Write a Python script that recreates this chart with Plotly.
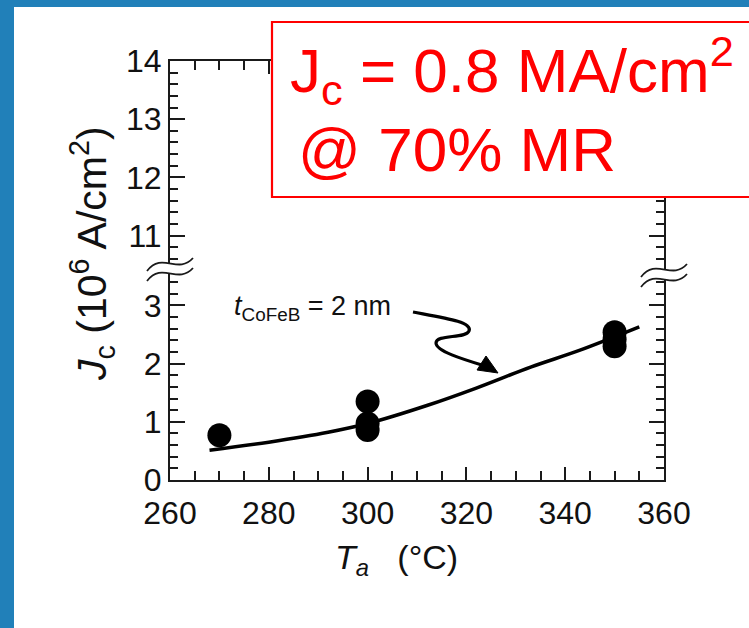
import plotly.graph_objects as go

# ---------------- data ----------------
pt_x = [270, 300, 300, 300, 350, 350, 350]
pt_y = [0.77, 1.35, 0.97, 0.86, 2.54, 2.42, 2.30]
fit_x = [268, 280, 292, 300, 312, 322, 333, 343, 355]
fit_y = [0.51, 0.65, 0.82, 0.97, 1.28, 1.58, 1.94, 2.23, 2.63]
x_ticks = [260, 280, 300, 320, 340, 360]
y_low_ticks = [0, 1, 2, 3]
y_high_ticks = [11, 12, 13, 14]

# ---------------- geometry helpers (layout only) ----------------
W, H = 749, 628
L, R, T, B = 170, 664, 61, 480


def px(x):
    return (x - L) / (R - L)


def py(y):
    return (B - y) / (B - T)


def path(points, close=False):
    s = ""
    for cmd, pts in points:
        s += cmd + " " + " ".join(f"{px(a):.5f},{py(b):.5f}" for a, b in pts) + " "
    if close:
        s += "Z"
    return s


FONT = "Liberation Sans, Arial, Helvetica, sans-serif"
AX = "#1a1a1a"

fig = go.Figure()
fig.add_trace(go.Scatter(x=fit_x, y=fit_y, mode="lines",
                         line=dict(color="black", width=3.5, shape="spline"),
                         xaxis="x", yaxis="y", showlegend=False, hoverinfo="skip"))
fig.add_trace(go.Scatter(x=pt_x, y=pt_y, mode="markers",
                         marker=dict(color="black", size=24),
                         xaxis="x", yaxis="y", showlegend=False))
# empty traces so that the upper (broken) axis panel is drawn
fig.add_trace(go.Scatter(x=[None], y=[None], mode="markers", xaxis="x", yaxis="y2",
                         showlegend=False, hoverinfo="skip"))
fig.add_trace(go.Scatter(x=[None], y=[None], mode="markers", xaxis="x2", yaxis="y2",
                         showlegend=False, hoverinfo="skip"))

tickfont = dict(family=FONT, size=32, color="#111111")
common_y = dict(showline=True, linecolor=AX, linewidth=2, mirror="ticks",
                ticks="inside", ticklen=15, tickwidth=1.6, tickcolor=AX,
                showgrid=False, zeroline=False, tickfont=tickfont,
                tickmode="array", anchor="x")
common_x = dict(range=[260, 360], showline=True, linecolor=AX, linewidth=2,
                ticks="inside", ticklen=13, tickwidth=1.6, tickcolor=AX,
                showgrid=False, zeroline=False, tickfont=tickfont,
                tickmode="array", tickvals=x_ticks,
                minor=dict(tick0=260, dtick=5, ticks="inside", ticklen=9,
                           tickwidth=1.6, tickcolor=AX, showgrid=False))

fig.update_layout(
    width=W, height=H,
    margin=dict(l=L, r=W - R, t=T, b=H - B, pad=0),
    paper_bgcolor="white", plot_bgcolor="white",
    showlegend=False,
    xaxis=dict(anchor="y", domain=[0, 1], ticklabelstandoff=4, **common_x),
    xaxis2=dict(anchor="y2", overlaying="x", side="top", showticklabels=False,
                domain=[0, 1], **common_x),
    yaxis=dict(domain=[0, 0.5], range=[0, 3.6], tickvals=y_low_ticks,
               ticklabelstandoff=0,
               minor=dict(tick0=0, dtick=0.2, ticks="inside", ticklen=8,
                          tickwidth=1.6, tickcolor=AX, showgrid=False),
               **common_y),
    yaxis2=dict(domain=[0.5, 1], range=[10.4, 14], tickvals=y_high_ticks,
                ticklabelstandoff=0,
                minor=dict(tick0=10, dtick=0.2, ticks="inside", ticklen=8,
                           tickwidth=1.6, tickcolor=AX, showgrid=False),
                **common_y),
)

shapes = []
BLUE = "#2180b9"
# slide frame (left and top blue bands)
shapes.append(dict(type="rect", xref="paper", yref="paper",
                   x0=px(-5), x1=px(14), y0=py(H + 5), y1=py(-5),
                   fillcolor=BLUE, line=dict(width=0), layer="above"))
shapes.append(dict(type="rect", xref="paper", yref="paper",
                   x0=px(-5), x1=px(W + 5), y0=py(7), y1=py(-5),
                   fillcolor=BLUE, line=dict(width=0), layer="above"))


# axis-break symbols
def brk(cx, cy):
    w, gap = 23, 10
    up = [(cx - w, cy + 5), (cx - 8, cy - 15), (cx + 8, cy + 9), (cx + w, cy - 8)]
    lo = [(a, b + gap) for a, b in up]
    fill = [("M", [up[0]]), ("C", up[1:]), ("L", [lo[3]]),
            ("C", [lo[2], lo[1], lo[0]])]
    out = [dict(type="path", xref="paper", yref="paper", path=path(fill, True),
                fillcolor="white", line=dict(width=0), layer="above")]
    for wave in (up, lo):
        out.append(dict(type="path", xref="paper", yref="paper",
                        path=path([("M", [wave[0]]), ("C", wave[1:])]),
                        line=dict(color=AX, width=1.8), layer="above"))
    return out


shapes += brk(170, 266)
shapes += brk(664, 272)

# squiggly arrow to the curve
shapes.append(dict(type="path", xref="paper", yref="paper",
                   path=path([("M", [(413, 312)]),
                              ("C", [(445, 318), (473, 322), (469, 331)]),
                              ("C", [(466, 339), (436, 334), (436, 343)]),
                              ("C", [(436, 351), (462, 359), (485, 366)])]),
                   line=dict(color="black", width=3.2), layer="above"))
shapes.append(dict(type="path", xref="paper", yref="paper",
                   path=path([("M", [(498, 373)]), ("L", [(477, 370)]),
                              ("L", [(486, 356)])], True),
                   fillcolor="black", line=dict(color="black", width=1), layer="above"))

# red highlight box
shapes.append(dict(type="rect", xref="paper", yref="paper",
                   x0=px(272), x1=px(770), y0=py(197), y1=py(22),
                   fillcolor="white", line=dict(color="#ff0000", width=2.2),
                   layer="above"))
fig.update_layout(shapes=shapes)

ann = []
RED = "#ff0000"
ann.append(dict(xref="paper", yref="paper", x=px(288), y=py(70), xanchor="left",
                yanchor="middle", showarrow=False, align="left",
                text="J<sub>c</sub> = 0.8 MA/cm<sup>2</sup>",
                font=dict(family=FONT, size=62, color=RED)))
ann.append(dict(xref="paper", yref="paper", x=px(296), y=py(149), xanchor="left",
                yanchor="middle", showarrow=False, align="left",
                text="@ 70% MR",
                font=dict(family=FONT, size=62, color=RED)))
# axis titles
ann.append(dict(xref="paper", yref="paper", x=px(92), y=py(254), xanchor="center",
                yanchor="middle", showarrow=False, textangle=-90,
                text="<i>J</i><sub>c</sub> (10<sup>6</sup> A/cm<sup>2</sup>)",
                font=dict(family=FONT, size=41, color="#111111")))
ann.append(dict(xref="paper", yref="paper", x=px(396), y=py(559), xanchor="center",
                yanchor="middle", showarrow=False,
                text="<i>T</i><sub><i>a</i></sub>\u00a0\u00a0 (°C)",
                font=dict(family=FONT, size=34, color="#111111")))
# curve label
ann.append(dict(xref="paper", yref="paper", x=px(232), y=py(308), xanchor="left",
                yanchor="middle", showarrow=False,
                text="<i>t</i><sub>CoFeB</sub> = 2 nm",
                font=dict(family=FONT, size=27, color="#111111")))
fig.update_layout(annotations=ann)

fig.write_html("out.html", config={"displayModeBar": False},
               post_script="document.body.style.margin='0';document.body.style.overflow='hidden';")
